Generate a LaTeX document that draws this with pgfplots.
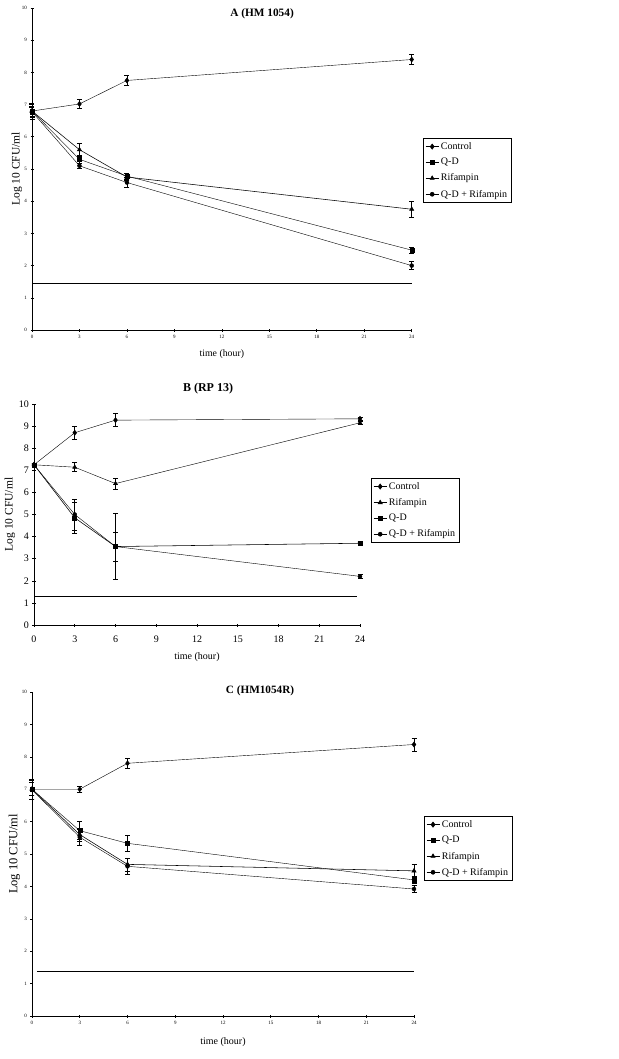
\documentclass[border=0pt]{standalone}
\usepackage{fontspec}
\setmainfont{Liberation Serif}
\usepackage{pgfplots}
\pgfplotsset{compat=1.18}
\pgfplotsset{
  panel/.style={
    scale only axis,
    axis lines=left,
    axis line style={-, line width=0.7pt},
    xmin=0, xmax=24, ymin=0, ymax=10,
    xtick={0,3,...,24}, ytick={0,1,...,10},
    tick align=center,
    major tick length=3pt,
    tick style={black, line width=0.6pt},
    /pgf/number format/assume math mode=true,
    clip=false,
    ylabel={Log 10 CFU/ml},
    xlabel={time (hour)},
    legend cell align=left,
    legend style={draw=black, line width=0.6pt, font=\fontsize{10}{11}\selectfont, inner xsep=2pt, inner ysep=2pt, row sep=3.5pt, anchor=north west},
    legend image code/.code={\draw[mark repeat=2,mark phase=2] plot coordinates {(0pt,0pt)(6.5pt,0pt)(13pt,0pt)};},
    cycle list={{black, solid, line width=0.55pt, mark options={solid, fill=black}}},
    error bars/error bar style={line width=0.7pt, black},
    error bars/error mark options={rotate=90, mark size=2.5pt, line width=0.7pt, black},
  },
  small ticks/.style={ticklabel style={font=\fontsize{5}{6}\selectfont}},
}
\begin{document}
\begin{tikzpicture}
\path[use as bounding box] (0,0) rectangle (618pt,-1059pt);
% ---------------- Panel A
\begin{axis}[panel, small ticks,
  at={(32pt,-330pt)}, anchor=south west, width=379.7pt, height=322pt,
  ylabel style={font=\fontsize{11.5}{12}\selectfont}, ylabel shift=-7pt,
  xlabel style={font=\fontsize{9.8}{11}\selectfont}, xlabel shift=4pt,
  legend style={at={(rel axis cs:1.03,0.596)}},
]
\addplot+[mark=diamond*, mark size=2.6pt, error bars/.cd, y dir=both, y explicit] coordinates {(0,6.8) +- (0,0.2) (3,7.02) +- (0,0.15) (6,7.75) +- (0,0.15) (24,8.4) +- (0,0.15)};
\addlegendentry{Control}
\addplot+[mark=square*, mark size=2pt, error bars/.cd, y dir=both, y explicit] coordinates {(0,6.8) +- (0,0.1) (3,5.3) +- (0,0.12) (6,4.78) +- (0,0.1) (24,2.48) +- (0,0.1)};
\addlegendentry{Q-D}
\addplot+[mark=triangle*, mark size=2.4pt, error bars/.cd, y dir=both, y explicit] coordinates {(0,6.8) +- (0,0.15) (3,5.6) +- (0,0.2) (6,4.75) +- (0,0.1) (24,3.75) +- (0,0.25)};
\addlegendentry{Rifampin}
\addplot+[mark=*, mark size=2pt, error bars/.cd, y dir=both, y explicit] coordinates {(0,6.78) +- (0,0.25) (3,5.1) +- (0,0.08) (6,4.58) +- (0,0.15) (24,2.0) +- (0,0.12)};
\addlegendentry{Q-D + Rifampin}
\addplot[black, line width=0.9pt, mark=none, forget plot] coordinates {(0,1.45) (24,1.45)};
\node[font=\bfseries\fontsize{11.3}{12}\selectfont] at (rel axis cs:0.606,0.981) {A (HM 1054)};
\end{axis}
% ---------------- Panel B
\begin{axis}[panel,
  at={(34pt,-625pt)}, anchor=south west, width=326pt, height=221pt,
  ticklabel style={font=\fontsize{10}{11}\selectfont},
  xticklabel style={yshift=-6pt},
  ylabel style={font=\fontsize{11.5}{12}\selectfont}, ylabel shift=-3pt,
  xlabel style={font=\fontsize{10}{11}\selectfont}, xlabel shift=3pt,
  legend style={at={(rel axis cs:1.034,0.665)}},
]
\addplot+[mark=diamond*, mark size=2.6pt, error bars/.cd, y dir=both, y explicit] coordinates {(0,7.25) +- (0,0.05) (3,8.7) +- (0,0.28) (6,9.27) +- (0,0.3) (24,9.33) +- (0,0.05)};
\addlegendentry{Control}
\addplot+[mark=triangle*, mark size=2.4pt, error bars/.cd, y dir=both, y explicit] coordinates {(0,7.25) +- (0,0.05) (3,7.14) +- (0,0.2) (6,6.4) +- (0,0.25) (24,9.15) +- (0,0.07)};
\addlegendentry{Rifampin}
\addplot+[mark=square*, mark size=2pt, error bars/.cd, y dir=both, y explicit] coordinates {(0,7.25) +- (0,0.05) (3,4.85) +- (0,0.7) (6,3.55) +- (0,1.5) (24,3.7) +- (0,0.1)};
\addlegendentry{Q-D}
\addplot+[mark=*, mark size=2pt, error bars/.cd, y dir=both, y explicit] coordinates {(0,7.25) +- (0,0.05) (3,5.0) +- (0,0.7) (6,3.55) +- (0,0.65) (24,2.2) +- (0,0.1)};
\addlegendentry{Q-D + Rifampin}
\addplot[black, line width=0.9pt, mark=none, forget plot] coordinates {(0,1.28) (23.8,1.28)};
\node[font=\bfseries\fontsize{12}{13}\selectfont] at (rel axis cs:0.534,1.068) {B (RP 13)};
\end{axis}
% ---------------- Panel C
\begin{axis}[panel, small ticks,
  at={(32pt,-1016pt)}, anchor=south west, width=382pt, height=324pt,
  ylabel style={font=\fontsize{12.5}{13}\selectfont}, ylabel shift=-5pt,
  xlabel style={font=\fontsize{10}{11}\selectfont}, xlabel shift=6pt,
  legend style={at={(rel axis cs:1.026,0.617)}},
]
\addplot+[mark=diamond*, mark size=2.6pt, error bars/.cd, y dir=both, y explicit] coordinates {(0,7.0) +- (0,0.3) (3,7.0) +- (0,0.1) (6,7.8) +- (0,0.15) (24,8.38) +- (0,0.2)};
\addlegendentry{Control}
\addplot+[mark=square*, mark size=2pt, error bars/.cd, y dir=both, y explicit] coordinates {(0,7.0) +- (0,0.2) (3,5.72) +- (0,0.28) (6,5.33) +- (0,0.25) (24,4.2) +- (0,0.1)};
\addlegendentry{Q-D}
\addplot+[mark=triangle*, mark size=2.4pt, error bars/.cd, y dir=both, y explicit] coordinates {(0,7.0) +- (0,0.2) (3,5.6) +- (0,0.2) (6,4.68) +- (0,0.2) (24,4.48) +- (0,0.2)};
\addlegendentry{Rifampin}
\addplot+[mark=*, mark size=2pt, error bars/.cd, y dir=both, y explicit] coordinates {(0,6.98) +- (0,0.3) (3,5.52) +- (0,0.25) (6,4.62) +- (0,0.25) (24,3.92) +- (0,0.1)};
\addlegendentry{Q-D + Rifampin}
\addplot[black, line width=0.7pt, mark=none, forget plot] coordinates {(0.3,1.39) (24,1.39)};
\node[font=\bfseries\fontsize{11.2}{12}\selectfont] at (rel axis cs:0.597,1.003) {C (HM1054R)};
\end{axis}
\end{tikzpicture}
\end{document}
